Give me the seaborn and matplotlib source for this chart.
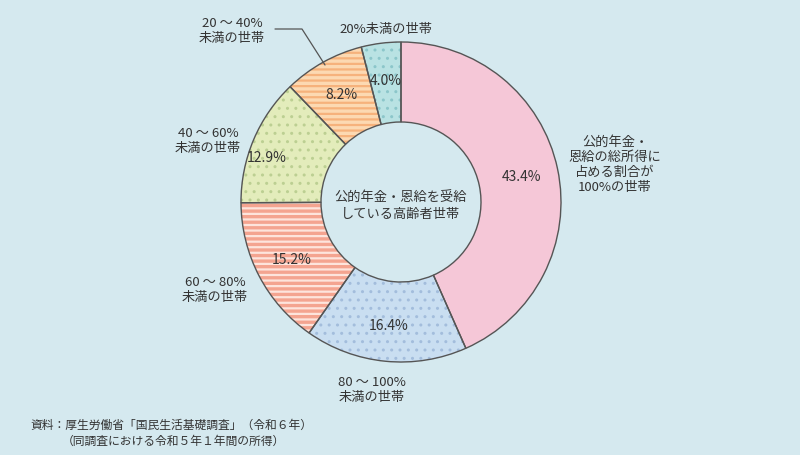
import matplotlib
matplotlib.use("Agg")
import matplotlib.pyplot as plt
import seaborn as sns

# data (clockwise from top)
categories = ["公的年金・\n恩給の総所得に\n占める割合が\n100%の世帯",
              "80 ～ 100%\n未満の世帯",
              "60 ～ 80%\n未満の世帯",
              "40 ～ 60%\n未満の世帯",
              "20 ～ 40%\n未満の世帯",
              "20%未満の世帯"]
shares = [43.4, 16.4, 15.2, 12.9, 8.2, 4.0]
center_text = "公的年金・恩給を受給\nしている高齢者世帯"
source_lines = ["資料：厚生労働省「国民生活基礎調査」（令和６年）",
                "（同調査における令和５年１年間の所得）"]

# styles
base_colors = ["#f5c7d7", "#c9def1", "#f4a490", "#e3ecbb", "#fcd9b2", "#b9e2e3"]
hatch_colors = ["#f5c7d7", "#a3bddc", "#fde4dc", "#bccf92", "#f6b27c", "#8cc6ca"]
hatches = [None, "..", "---", "..", "---", ".."]
bg = "#d5e9ef"
txt = "#333333"

sns.set_theme(style="white")
plt.rcParams['font.family'] = ['Noto Sans CJK JP', 'DejaVu Sans']
plt.rcParams['hatch.linewidth'] = 1.6

W, H = 800, 456
fig = plt.figure(figsize=(W / 100, H / 100), dpi=100, facecolor=bg)
ax = fig.add_axes([0, 0, 1, 1])
ax.set_facecolor(bg)


def px(x, y):
    # pixel position (from top-left) to data coords
    return x, H - y


cx, cy = px(401, 203)
R, ring = 160, 80

# base fills
ax.pie(shares, colors=base_colors, startangle=90, counterclock=False,
       radius=R, center=(cx, cy),
       wedgeprops=dict(width=ring, linewidth=0))
# hatch overlay
wedges, _ = ax.pie(shares, colors=["none"] * len(shares), startangle=90,
                   counterclock=False, radius=R, center=(cx, cy),
                   wedgeprops=dict(width=ring, linewidth=0))
for w, hc, hp in zip(wedges, hatch_colors, hatches):
    w.set_facecolor("none")
    w.set_edgecolor(hc)
    w.set_linewidth(0)
    if hp:
        w.set_hatch(hp)
        if hp == ".." and hasattr(w, "set_hatch_linewidth"):
            w.set_hatch_linewidth(1.0)
# outlines + percent labels
wedges, _, autotexts = ax.pie(shares, startangle=90, counterclock=False,
                              radius=R, center=(cx, cy), autopct="%.1f%%",
                              pctdistance=0.77,
                              wedgeprops=dict(width=ring, facecolor="none",
                                              edgecolor="#555555", linewidth=1.0),
                              textprops=dict(fontsize=10, color=txt))
autotexts[3].set_position(px(267, 158))

ax.set_xlim(0, W)
ax.set_ylim(0, H)
ax.set_aspect("equal")
ax.axis("off")

# outer labels
label_pos = [(615, 165), (372, 390), (215, 290), (208, 141), (232, 31), (386, 29)]
for lab, (lx, ly) in zip(categories, label_pos):
    ax.text(*px(lx, ly), lab, ha="center", va="center", fontsize=9.5,
            color=txt, linespacing=1.2)

# leader line for 20-40%
lx, ly = zip(px(275, 30), px(302, 30), px(325, 66))
ax.plot(lx, ly, color="#555555", linewidth=0.9)

ax.text(cx, cy - 3, center_text, ha="center", va="center", fontsize=9.5,
        color=txt, linespacing=1.3)

ax.text(*px(30, 425), source_lines[0], ha="left", va="center", fontsize=8.5, color=txt)
ax.text(*px(62, 441), source_lines[1], ha="left", va="center", fontsize=8.5, color=txt)

plt.savefig("out.png", dpi=100, facecolor=bg)
